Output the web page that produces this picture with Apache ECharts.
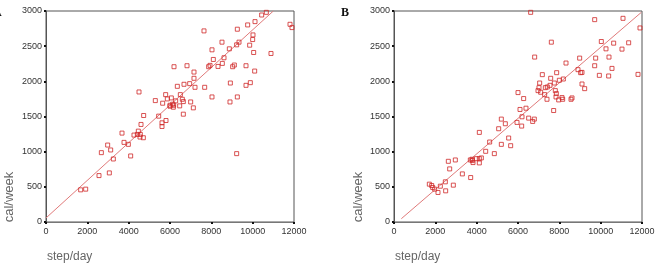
<!DOCTYPE html>
<html>
<head>
<meta charset="utf-8">
<script src="https://cdn.jsdelivr.net/npm/echarts@6/dist/echarts.min.js"></script>
<style>
html,body{margin:0;padding:0;background:#fff;}
#c{width:658px;height:266px;}
</style>
</head>
<body>
<div id="c"></div>
<script>
var xTicks = [0, 2000, 4000, 6000, 8000, 10000, 12000];
var yTicks = [0, 500, 1000, 1500, 2000, 2500, 3000];

var aSteps = [1677,1920,2565,2678,3065,2984,3129,3258,3678,3775,3984,4097,4258,4420,4468,4500,4548,4597,4710,4726,4565,5290,5452,5613,5613,5645,5790,5807,5871,6000,6000,6065,6161,6177,6129,6194,6274,6355,6468,6500,6597,6645,6645,6678,6823,6952,7000,7129,7161,7161,7210,7678,7645,7871,7936,8032,8032,8097,8323,8516,8532,8613,8871,8920,8903,9032,9113,9226,9258,9258,9226,9339,9678,9678,9758,9855,9887,10000,10016,10048,10113,10097,10435,10661,10887,11807,11903];
var aCal = [457,467,660,986,698,1094,1024,896,1264,1132,1104,939,1236,1245,1292,1849,1208,1387,1198,1514,1245,1726,1505,1410,1358,1689,1811,1443,1750,1660,1646,1764,1632,1660,1675,2208,1722,1929,1651,1811,1745,1712,1533,1958,2222,1967,1707,1623,2132,2043,1915,1915,2717,2208,2227,2448,1778,2311,2212,2557,2255,2335,2462,1976,1707,2208,2232,2519,2741,1778,972,2557,2222,1943,2802,2514,1981,2594,2660,2410,2849,2146,2943,2981,2396,2811,2764];

var bSteps = [1710,1823,1871,1968,2129,2242,2484,2500,2629,2694,2871,2968,3307,3710,3694,3775,3823,3790,3984,4129,4129,4129,4226,4436,4629,4855,5065,5194,5194,5387,5548,5645,5952,6000,6097,6194,6177,6274,6387,6516,6613,6710,6790,6806,6968,7016,7097,7048,7177,7290,7323,7403,7419,7548,7613,7581,7726,7758,7806,7839,7855,7871,7968,8000,8129,8161,8194,8323,8565,8613,8903,8984,9032,9097,9097,9226,9710,9710,9758,9936,10032,10258,10403,10387,10548,10629,11032,11081,11355,11807,11903];
var bCal = [538,519,491,467,420,509,571,443,863,755,524,882,684,632,882,892,845,873,901,1274,840,901,911,1005,1137,972,1326,1463,1104,1397,1194,1085,1416,1840,1600,1496,1364,1755,1618,1477,2981,1430,1463,2345,1868,1910,1845,1976,2095,1811,1910,1745,1920,1943,2557,2043,1585,1976,1868,1778,1826,2123,1736,2015,1769,1745,2033,2260,1745,1764,2166,2330,2123,2127,1962,1896,2877,2222,2330,2085,2566,2462,2345,2076,2184,2543,2458,2896,2548,2099,2759];

var aFitX = [0, 11000];
var aFitY = [57, 3000];
var bFitX = [355, 11968];
var bFitY = [47, 2981];

function zip(xs, ys){ return xs.map(function(v,i){ return [v, ys[i]]; }); }
function plain(v){ return String(v); }

var chart = echarts.init(document.getElementById('c'), null, {renderer:'canvas'});
var axisColor = '#555';
var labelColor = '#333';
function xAxis(i){
  return {gridIndex:i, type:'value', min:xTicks[0], max:xTicks[xTicks.length-1], interval:xTicks[1]-xTicks[0],
    axisLine:{show:true, onZero:false, lineStyle:{color:'#777', width:1}},
    axisTick:{show:true, length:2, lineStyle:{color:'#111', width:2}},
    axisLabel:{fontSize:9, color:labelColor, margin:5, formatter:plain, fontFamily:'Liberation Sans, Arial, sans-serif'},
    splitLine:{show:false}};
}
function yAxis(i){
  return {gridIndex:i, type:'value', min:yTicks[0], max:yTicks[yTicks.length-1], interval:yTicks[1]-yTicks[0],
    axisLine:{show:true, onZero:false, lineStyle:{color:axisColor, width:1}},
    axisTick:{show:true, length:2, lineStyle:{color:'#111', width:2}},
    axisLabel:{fontSize:9, color:labelColor, margin:4, formatter:plain, fontFamily:'Liberation Sans, Arial, sans-serif'},
    splitLine:{show:false}};
}
var markStyle = {color:'rgba(0,0,0,0)', borderColor:'#d02828', borderWidth:1};
var lineStyle = {color:'#e07a7a', width:1};
var titleFont = {fill:'#666', font:'12px "Liberation Sans", Arial, sans-serif'};

chart.setOption({
  animation:false,
  backgroundColor:'#fff',
  grid:[
    {left:46, top:11, width:248, height:211, show:true, borderColor:axisColor, borderWidth:1, backgroundColor:'#fff'},
    {left:394, top:11, width:248, height:211, show:true, borderColor:axisColor, borderWidth:1, backgroundColor:'#fff'}
  ],
  xAxis:[xAxis(0), xAxis(1)],
  yAxis:[yAxis(0), yAxis(1)],
  series:[
    {type:'line', xAxisIndex:0, yAxisIndex:0, data:zip(aFitX,aFitY), symbol:'none', lineStyle:lineStyle, z:2},
    {type:'line', xAxisIndex:1, yAxisIndex:1, data:zip(bFitX,bFitY), symbol:'none', lineStyle:lineStyle, z:2},
    {type:'scatter', xAxisIndex:0, yAxisIndex:0, data:zip(aSteps,aCal), symbol:'rect', symbolSize:4, itemStyle:markStyle, z:3},
    {type:'scatter', xAxisIndex:1, yAxisIndex:1, data:zip(bSteps,bCal), symbol:'rect', symbolSize:4, itemStyle:markStyle, z:3}
  ],
  graphic:[
    {type:'text', left:-7, top:7, style:{text:'A', fill:'#111', font:'bold 12px "Liberation Serif", serif'}},
    {type:'text', left:341, top:7, style:{text:'B', fill:'#111', font:'bold 12px "Liberation Serif", serif'}},
    {type:'text', left:47, top:251, style:Object.assign({text:'step/day'}, titleFont)},
    {type:'text', left:395, top:251, style:Object.assign({text:'step/day'}, titleFont)},
    {type:'text', x:9, y:197, rotation:Math.PI/2, style:{text:'cal/week', fill:'#666', font:'13px "Liberation Sans", Arial, sans-serif', align:'center', verticalAlign:'middle'}},
    {type:'text', x:358, y:197, rotation:Math.PI/2, style:{text:'cal/week', fill:'#666', font:'13px "Liberation Sans", Arial, sans-serif', align:'center', verticalAlign:'middle'}}
  ]
});
</script>
</body>
</html>
